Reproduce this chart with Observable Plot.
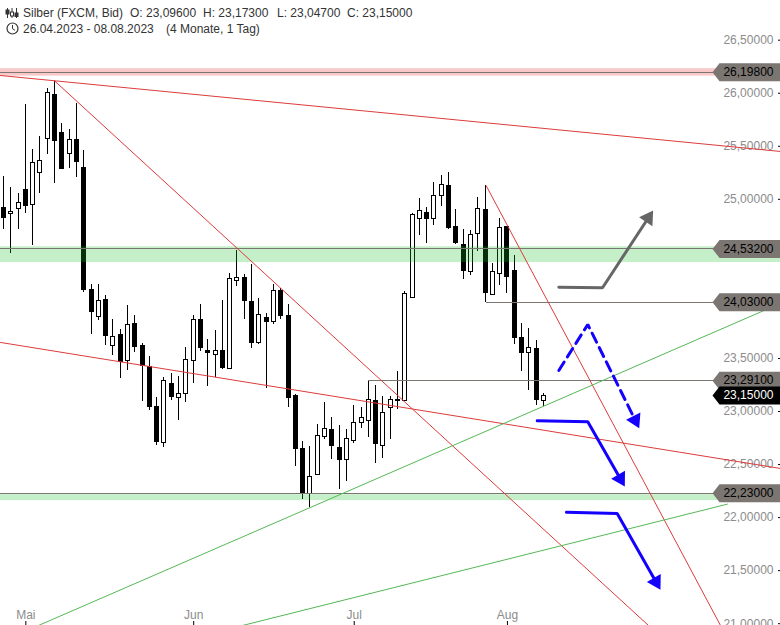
<!DOCTYPE html>
<html>
<head>
<meta charset="utf-8">
<script src="https://cdn.jsdelivr.net/npm/d3@7"></script>
<script src="https://cdn.jsdelivr.net/npm/@observablehq/plot@0.6"></script>
<style>
html,body{margin:0;padding:0;background:#fff;width:780px;height:625px;overflow:hidden}
#wrap{position:relative;width:780px;height:625px}
#wrap svg{display:block}
.h{position:absolute;font:12px "Liberation Sans",Arial,sans-serif;color:#333;white-space:pre;line-height:14px}
</style>
</head>
<body>
<div id="wrap"></div>
<script>
const open = [24.920,24.860,24.911,25.090,24.948,25.250,25.571,25.985,25.627,25.429,25.561,25.297,24.147,23.893,24.053,23.620,23.723,23.478,23.827,23.620,23.418,23.045,22.705,23.261,23.130,23.167,23.478,23.858,23.566,23.535,23.572,23.403,24.232,24.260,24.034,23.648,23.883,23.846,24.138,23.902,23.148,22.649,22.225,22.400,22.758,22.828,22.658,22.545,22.720,22.894,22.913,23.101,22.677,23.031,23.111,23.095,24.072,24.817,24.873,24.817,25.033,25.121,24.741,24.571,24.317,24.675,24.901,24.100,24.298,24.741,24.329,23.695,23.554,23.591,23.096];
const high = [25.215,25.112,25.052,25.894,25.470,25.592,26.045,26.113,25.712,25.655,25.903,25.460,24.197,24.197,24.094,23.865,23.770,23.997,23.902,23.638,23.519,23.132,23.318,23.359,23.327,23.601,23.902,24.006,23.676,23.764,24.044,24.298,24.518,24.289,24.386,24.063,23.921,24.197,24.157,24.009,23.158,22.715,22.670,22.875,23.082,22.941,22.866,22.828,23.054,23.041,23.291,23.243,23.139,23.142,23.374,24.134,24.864,25.005,24.920,25.156,25.225,25.250,24.901,24.713,24.703,25.014,25.128,24.395,24.819,24.744,24.468,23.827,23.780,23.667,23.173];
const low = [24.719,24.492,24.719,24.869,24.568,25.058,25.425,25.152,25.284,25.293,25.209,24.125,23.729,23.861,23.625,23.531,23.314,23.390,23.559,23.097,23.013,22.683,22.664,23.107,22.918,23.088,23.267,23.569,23.239,23.324,23.399,23.399,24.181,23.870,23.591,23.635,23.214,23.823,23.870,23.041,22.485,22.174,22.096,22.394,22.739,22.551,22.268,22.338,22.702,22.843,22.758,22.513,22.560,22.739,23.016,23.092,24.072,24.662,24.587,24.756,24.935,24.713,24.577,24.247,24.285,24.511,24.030,24.100,24.191,24.115,23.635,23.380,23.198,23.060,23.047];
const close = [24.822,24.883,24.967,24.935,25.344,25.363,26.004,25.548,25.288,25.561,25.350,24.144,23.936,24.040,23.710,23.704,23.465,23.817,23.606,23.431,23.045,22.711,23.290,23.135,23.167,23.488,23.865,23.597,23.550,23.572,23.408,24.251,24.260,24.040,23.644,23.912,23.842,24.138,23.899,23.126,22.645,22.234,22.385,22.771,22.837,22.673,22.541,22.739,22.894,22.941,23.111,22.692,22.988,23.111,23.097,24.110,24.854,24.892,24.813,25.033,25.137,24.728,24.587,24.323,24.666,24.911,24.115,24.313,24.732,24.266,23.691,23.550,23.597,23.107,23.150];

const monthTicks = [3, 26, 48, 69];
const monthNames = ["Mai", "Jun", "Jul", "Aug"];
const priceTicks = [21, 21.5, 22, 22.5, 23, 23.5, 25, 25.5, 26, 26.5];

const levels = [26.198, 24.532, 24.03, 23.291, 22.23];
const levelStart = [null, null, 66.09, 50, null];
const lastPrice = 23.15;

const zones = [
  {y1: 26.231, y2: 26.161, color: "rgb(232,40,40)"},
  {y1: 24.553, y2: 24.404, color: "rgb(24,192,36)"},
  {y1: 22.216, y2: 22.160, color: "rgb(24,192,36)"}
];

const redLines = [
  [[-0.473, 26.167], [106.42, 25.451]],
  [[6.93, 26.117], [88.33, 20.983]],
  [[-0.473, 23.651], [106.42, 22.463]],
  [[66.09, 25.128], [98.20, 20.983]]
];
const greenLines = [
  [[4.73, 20.983], [104.50, 23.962]],
  [[32.69, 20.983], [99.15, 22.127]]
];
const arrows = [
  {color: "#666666", dash: null, heading: 33.4, tip: [88.97, 24.895], path: [[76.04, 24.172], [82.03, 24.166], [88.52, 24.848]]},
  {color: "#1400ff", dash: "10 6", heading: 153.6, tip: [87.06, 22.843], path: [[76.04, 23.387], [80.01, 23.820], [86.69, 22.894]]},
  {color: "#1400ff", dash: null, heading: 150.2, tip: [85.08, 22.293], path: [[73.08, 22.913], [80.01, 22.903], [84.67, 22.342]]},
  {color: "#1400ff", dash: null, heading: 150.4, tip: [89.97, 21.320], path: [[77.09, 22.051], [84.04, 22.039], [89.56, 21.369]]}
];

const candles = open.map((o, i) => ({i, o, h: high[i], l: low[i], c: close[i]}));
const fmt = v => d3.format(".5f")(v).replace(".", ",");
const LINE = "#7b7672";
const tag = {draw(ctx) { ctx.moveTo(-68, 0); ctx.lineTo(-61, -9); ctx.lineTo(0, -9); ctx.lineTo(0, 9); ctx.lineTo(-61, 9); ctx.closePath(); }};
const head = {draw(ctx) { ctx.moveTo(0, 0); ctx.lineTo(-8, 13.5); ctx.lineTo(8, 13.5); ctx.closePath(); }};
const crisp = {shapeRendering: "crispEdges"};
const bw = 0.274;

const chart = Plot.plot({
  width: 780, height: 625,
  marginTop: 0, marginRight: 0, marginBottom: 0, marginLeft: 0,
  style: {background: "white", fontFamily: "'Liberation Sans', Arial, sans-serif", fontSize: "12px", overflow: "hidden"},
  x: {domain: [-0.473, 106.42], axis: null},
  y: {domain: [20.983, 26.874], axis: null},
  marks: [
    Plot.axisY(priceTicks, {anchor: "right", tickSize: -3, tickPadding: -4, textAnchor: "end", tickFormat: fmt, fill: "#8c8c8c", stroke: "black", label: null}),
    Plot.axisX(monthTicks, {anchor: "bottom", tickSize: -4, tickPadding: -3, lineAnchor: "bottom", tickFormat: i => monthNames[monthTicks.indexOf(i)], fill: "#8c8c8c", stroke: "black", label: null}),
    Plot.ruleX(candles, {x: "i", y1: "l", y2: "h", stroke: "black", strokeWidth: 1, dx: -0.5, ...crisp}),
    Plot.rect(candles.filter(d => d.c >= d.o), {x1: d => d.i - bw, x2: d => d.i + bw, y1: "o", y2: "c", fill: "white", stroke: "black", strokeWidth: 1, ...crisp}),
    Plot.rect(candles.filter(d => d.c < d.o), {x1: d => d.i - bw, x2: d => d.i + bw, y1: "o", y2: "c", fill: "black", stroke: "black", strokeWidth: 1, ...crisp}),
    Plot.rect(zones, {y1: "y1", y2: "y2", fill: d => d.color, fillOpacity: 0.25}),
    ...levels.map((v, k) => Plot.ruleY([v], {x1: levelStart[k] ?? -0.473, x2: 106.42, stroke: LINE, strokeWidth: 1, ...crisp})),
    ...redLines.map(l => Plot.line(l, {x: "0", y: "1", stroke: "#dd3b3b", strokeWidth: 1})),
    ...greenLines.map(l => Plot.line(l, {x: "0", y: "1", stroke: "#55b855", strokeWidth: 1})),
    ...arrows.map(a => Plot.line(a.path, {x: "0", y: "1", stroke: a.color, strokeWidth: 3, strokeDasharray: a.dash, strokeLinejoin: "miter"})),
    Plot.dot(arrows, {x: d => d.tip[0], y: d => d.tip[1], symbol: head, fill: d => d.color, stroke: "none", rotate: d => d.heading}),
    Plot.dot(levels, {y: d => d, frameAnchor: "right", symbol: tag, fill: LINE, stroke: "none"}),
    Plot.text(levels, {y: d => d, text: fmt, frameAnchor: "right", dx: -7, textAnchor: "end", fill: "black", fontSize: 12}),
    Plot.dot([lastPrice], {y: d => d, frameAnchor: "right", symbol: tag, fill: "black", stroke: "none"}),
    Plot.text([lastPrice], {y: d => d, text: fmt, frameAnchor: "right", dx: -7, textAnchor: "end", fill: "white", fontSize: 12})
  ]
});
const wrap = document.getElementById("wrap");
wrap.appendChild(chart);

function label(x, y, text) {
  const s = document.createElement("div");
  s.className = "h";
  s.style.left = x + "px";
  s.style.top = y + "px";
  s.textContent = text;
  wrap.appendChild(s);
}
label(23, 6, "Silber (FXCM, Bid)");
label(130, 6, "O: 23,09600");
label(203, 6, "H: 23,17300");
label(277, 6, "L: 23,04700");
label(347, 6, "C: 23,15000");
label(23, 22, "26.04.2023 - 08.08.2023");
label(166, 22, "(4 Monate, 1 Tag)");

const icons = document.createElement("div");
icons.innerHTML = `<svg style="position:absolute;left:0;top:0;overflow:visible" width="22" height="36" fill="none" stroke="#333" stroke-width="1">
  <path d="M7.5 8v10M12 8v10M16.5 8v10"/>
  <rect x="6" y="10" width="3" height="4" fill="#333"/><rect x="10.5" y="12" width="3" height="4" fill="#fff"/><rect x="15" y="13" width="3" height="3.5" fill="#333"/>
  <circle cx="12.5" cy="28.5" r="5.5" stroke-width="1.2"/><path d="M12.5 25v3.7l2.5 1.6"/></svg>`;
wrap.appendChild(icons);
</script>
</body>
</html>
